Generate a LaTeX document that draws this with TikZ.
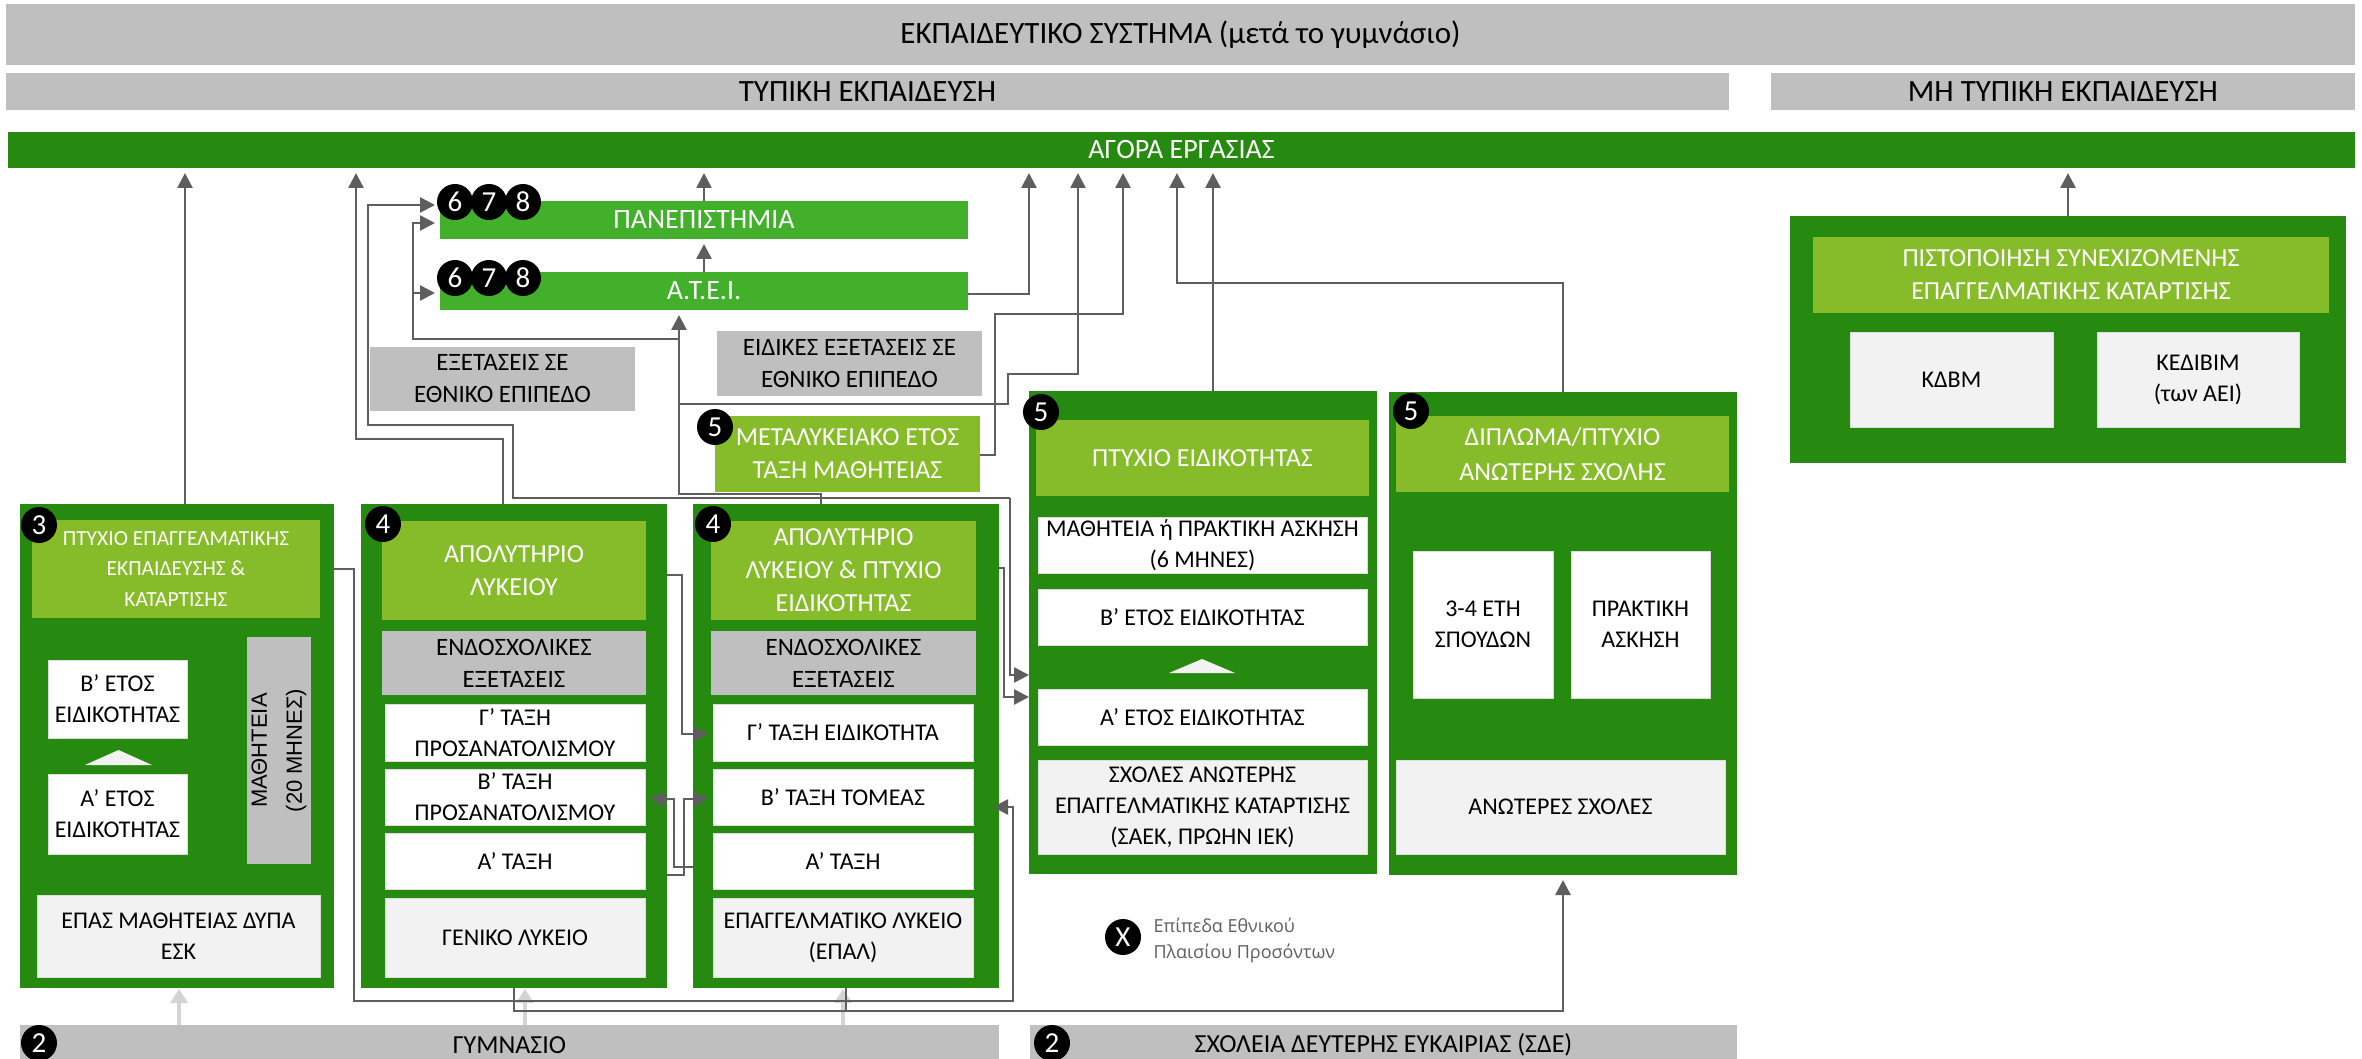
\documentclass[tikz,border=0pt]{standalone}
\usepackage{fontspec}
\setmainfont{Carlito}
\newfontfamily\legfont{Open Sans}
\newfontfamily\arfont{Liberation Sans}
\usetikzlibrary{arrows.meta}
\definecolor{dg}{HTML}{278A10}
\definecolor{lg}{HTML}{86BC29}
\definecolor{mg}{HTML}{42B02A}
\definecolor{gr}{HTML}{BFBFBF}
\definecolor{lgr}{HTML}{F2F2F2}
\definecolor{ln}{HTML}{5E5E5E}
\definecolor{lln}{HTML}{D4D4D4}
\definecolor{bd}{HTML}{DDDDDD}
\newcommand{\fs}[2]{\fontsize{#1}{#2}\selectfont}
\newcommand{\bx}[7]{\node[bxs,#6, minimum width={(#4-#2)*1pt}, minimum height={(#5-#3)*1pt}] (#1) at ({(#2+#4)/2},{(#3+#5)/2}) {#7};}
\begin{document}
\begin{tikzpicture}[x=1pt,y=-1pt,
  bxs/.style={inner sep=0pt, outer sep=0pt, align=center, font=\fs{24}{31}},
  bar/.style={fill=gr, font=\fs{31}{34}},
  gbar/.style={fill=dg, text=white, font=\fs{28}{30}},
  mbox/.style={fill=mg, text=white, font=\fs{28}{30}},
  cont/.style={fill=dg},
  hdr/.style={fill=lg, text=white, font=\fs{26}{33}},
  gb/.style={fill=gr, font=\fs{25}{32}},
  wb/.style={fill=white, draw=bd, line width=1pt},
  lb/.style={fill=lgr, draw=bd, line width=1pt},
  badge/.style={circle, fill=black, text=white, minimum size=36pt, inner sep=0pt, font=\fs{29}{29}},
  conn/.style={draw=ln, line width=2.6pt, -{Triangle[length=15pt,width=15pt]}, shorten >=5pt},
  wire/.style={draw=ln, line width=2.6pt},
  lconn/.style={draw=lln, line width=4pt, -{Triangle[length=14pt,width=17pt]}, shorten >=1pt}]
\useasboundingbox (0,0) rectangle (2362,1059);
\clip (0,0) rectangle (2362,1059);

% header bars
\bx{top}{6}{4}{2355}{65}{bar}{ΕΚΠΑΙΔΕΥΤΙΚΟ ΣΥΣΤΗΜΑ (μετά το γυμνάσιο)}
\bx{typ}{6}{73}{1729}{110}{bar}{ΤΥΠΙΚΗ ΕΚΠΑΙΔΕΥΣΗ}
\bx{mtyp}{1771}{73}{2355}{110}{bar}{ΜΗ ΤΥΠΙΚΗ ΕΚΠΑΙΔΕΥΣΗ}
\bx{agora}{8}{132}{2355}{168}{gbar}{ΑΓΟΡΑ ΕΡΓΑΣΙΑΣ}

% higher education
\bx{pan}{440}{201}{968}{239}{mbox}{ΠΑΝΕΠΙΣΤΗΜΙΑ}
\bx{atei}{440}{272}{968}{310}{mbox}{Α.Τ.Ε.Ι.}
\bx{exa}{370}{347}{635}{411}{gb}{ΕΞΕΤΑΣΕΙΣ ΣΕ\\ΕΘΝΙΚΟ ΕΠΙΠΕΔΟ}
\bx{exb}{717}{331}{982}{396}{gb}{ΕΙΔΙΚΕΣ ΕΞΕΤΑΣΕΙΣ ΣΕ\\ΕΘΝΙΚΟ ΕΠΙΠΕΔΟ}
\bx{meta}{715}{416}{980}{492}{hdr}{ΜΕΤΑΛΥΚΕΙΑΚΟ ΕΤΟΣ\\ΤΑΞΗ ΜΑΘΗΤΕΙΑΣ}

% box 3
\bx{b3}{20}{504}{334}{988}{cont}{}
\bx{b3h}{32}{520}{320}{618}{hdr,font=\fs{21.5}{30.6}}{ΠΤΥΧΙΟ ΕΠΑΓΓΕΛΜΑΤΙΚΗΣ\\ΕΚΠΑΙΔΕΥΣΗΣ \&\\ΚΑΤΑΡΤΙΣΗΣ}
\bx{b3b}{48}{660}{187}{738}{wb}{Β’ ΕΤΟΣ\\ΕΙΔΙΚΟΤΗΤΑΣ}
\bx{b3a}{48}{774}{187}{854}{wb}{Α’ ΕΤΟΣ\\ΕΙΔΙΚΟΤΗΤΑΣ}
\bx{b3m}{247}{637}{311}{864}{gb}{}
\node[rotate=90, align=center, font=\arfont\fs{22}{35}] (b3mt) at (b3m.center) {ΜΑΘΗΤΕΙΑ\\(20 ΜΗΝΕΣ)};
\bx{b3e}{37}{895}{320}{977}{lb}{ΕΠΑΣ ΜΑΘΗΤΕΙΑΣ ΔΥΠΑ\\ΕΣΚ}
\fill[lgr] (85,765) -- (152,765) -- (118.5,750) -- cycle;

% box 4a
\bx{b4a}{361}{504}{667}{988}{cont}{}
\bx{b4ah}{382}{521}{646}{620}{hdr}{ΑΠΟΛΥΤΗΡΙΟ\\ΛΥΚΕΙΟΥ}
\bx{b4ag}{382}{631}{646}{695}{gb}{ΕΝΔΟΣΧΟΛΙΚΕΣ\\ΕΞΕΤΑΣΕΙΣ}
\bx{b4a3}{385}{704}{645}{761}{wb}{Γ’ ΤΑΞΗ\\ΠΡΟΣΑΝΑΤΟΛΙΣΜΟΥ}
\bx{b4a2}{385}{769}{645}{825}{wb}{Β’ ΤΑΞΗ\\ΠΡΟΣΑΝΑΤΟΛΙΣΜΟΥ}
\bx{b4a1}{385}{833}{645}{889}{wb}{Α’ ΤΑΞΗ}
\bx{b4al}{385}{898}{645}{977}{lb}{ΓΕΝΙΚΟ ΛΥΚΕΙΟ}

% box 4b
\bx{b4b}{693}{504}{999}{988}{cont}{}
\bx{b4bh}{711}{521}{976}{620}{hdr}{ΑΠΟΛΥΤΗΡΙΟ\\ΛΥΚΕΙΟΥ \& ΠΤΥΧΙΟ\\ΕΙΔΙΚΟΤΗΤΑΣ}
\bx{b4bg}{711}{631}{976}{695}{gb}{ΕΝΔΟΣΧΟΛΙΚΕΣ\\ΕΞΕΤΑΣΕΙΣ}
\bx{b4b3}{713}{704}{973}{761}{wb}{Γ’ ΤΑΞΗ ΕΙΔΙΚΟΤΗΤΑ}
\bx{b4b2}{713}{769}{973}{825}{wb}{Β’ ΤΑΞΗ ΤΟΜΕΑΣ}
\bx{b4b1}{713}{833}{973}{889}{wb}{Α’ ΤΑΞΗ}
\bx{b4bl}{713}{898}{973}{977}{lb}{ΕΠΑΓΓΕΛΜΑΤΙΚΟ ΛΥΚΕΙΟ\\(ΕΠΑΛ)}

% box 5a
\bx{b5a}{1029}{391}{1377}{874}{cont}{}
\bx{b5ah}{1036}{420}{1369}{496}{hdr}{ΠΤΥΧΙΟ ΕΙΔΙΚΟΤΗΤΑΣ}
\bx{b5am}{1038}{517}{1367}{573}{wb}{ΜΑΘΗΤΕΙΑ ή ΠΡΑΚΤΙΚΗ ΑΣΚΗΣΗ\\(6 ΜΗΝΕΣ)}
\bx{b5ab}{1038}{589}{1367}{645}{wb}{Β’ ΕΤΟΣ ΕΙΔΙΚΟΤΗΤΑΣ}
\bx{b5aa}{1038}{689}{1367}{745}{wb}{Α’ ΕΤΟΣ ΕΙΔΙΚΟΤΗΤΑΣ}
\bx{b5as}{1038}{760}{1367}{854}{lb}{ΣΧΟΛΕΣ ΑΝΩΤΕΡΗΣ\\ΕΠΑΓΓΕΛΜΑΤΙΚΗΣ ΚΑΤΑΡΤΙΣΗΣ\\(ΣΑΕΚ, ΠΡΩΗΝ ΙΕΚ)}
\fill[lgr] (1169,673) -- (1235,673) -- (1202,659) -- cycle;

% box 5c
\bx{b5c}{1389}{392}{1737}{875}{cont}{}
\bx{b5ch}{1396}{416}{1729}{492}{hdr,font=\fs{26}{35}}{ΔΙΠΛΩΜΑ/ΠΤΥΧΙΟ\\ΑΝΩΤΕΡΗΣ ΣΧΟΛΗΣ}
\bx{b5c1}{1413}{551}{1553}{698}{wb}{3-4 ΕΤΗ\\ΣΠΟΥΔΩΝ}
\bx{b5c2}{1571}{551}{1710}{698}{wb}{ΠΡΑΚΤΙΚΗ\\ΑΣΚΗΣΗ}
\bx{b5cs}{1396}{760}{1725}{854}{lb}{ΑΝΩΤΕΡΕΣ ΣΧΟΛΕΣ}

% non formal
\bx{nf}{1790}{216}{2346}{463}{cont}{}
\bx{nfh}{1813}{237}{2329}{313}{hdr}{ΠΙΣΤΟΠΟΙΗΣΗ ΣΥΝΕΧΙΖΟΜΕΝΗΣ\\ΕΠΑΓΓΕΛΜΑΤΙΚΗΣ ΚΑΤΑΡΤΙΣΗΣ}
\bx{kdbm}{1850}{333}{2053}{427}{lb}{ΚΔΒΜ}
\bx{kedi}{2097}{333}{2299}{427}{lb}{ΚΕΔΙΒΙΜ\\(των ΑΕΙ)}

% bottom bars
\bx{gym}{20}{1025}{999}{1065}{bar,font=\fs{26}{30}}{ΓΥΜΝΑΣΙΟ}
\bx{sde}{1030}{1025}{1737}{1065}{bar,font=\fs{26}{30}}{ΣΧΟΛΕΙΑ ΔΕΥΤΕΡΗΣ ΕΥΚΑΙΡΙΑΣ (ΣΔΕ)}

% light arrows from gymnasio
\draw[lconn] (gym.north -| 179,0) -- (b3.south -| 179,0);
\draw[lconn] (gym.north -| 525,0) -- (b4a.south -| 525,0);
\draw[lconn] (gym.north -| 843,0) -- (b4b.south -| 843,0);

% connectors to labour market
\draw[conn] (b3.north -| 185,0) -- (agora.south -| 185,0);
\draw[conn] (b4a.north -| 503,0) |- (356,439) -- (agora.south -| 356,0);
\draw[conn] (pan.north) -- (agora.south -| pan.north);
\draw[conn] (atei.north) -- (pan.south);
\draw[conn] (atei.east |- 0,294) -| (agora.south -| 1029,0);
\draw[conn] (meta.east |- 0,455) -| (995,314) -| (agora.south -| 1123,0);
\draw[conn] (b5a.north -| 1213,0) -- (agora.south -| 1213,0);
\draw[conn] (b5c.north -| 1563,0) |- (1177,283) -- (agora.south -| 1177,0);
\draw[conn] (nf.north) -- (agora.south -| nf.north);

% connectors from box 4b top
\draw[conn] (b4b.north -| 821,0) |- (679,494) -- (atei.south -| 679,0);
\draw[conn] (679,339) -| (413,223) -- (pan.west |- 0,223);
\draw[conn] (413,293) -- (atei.west |- 0,293);
\draw[conn] (679,404) -| (1008,374) -| (agora.south -| 1078,0);
\draw[conn] (1010,498) -- (513,498) |- (368,425) |- (pan.west |- 0,205);
\draw[conn, shorten >=0pt] (1010,498) |- (b5a.west |- 0,675);
\draw[conn, shorten >=0pt] (b4b.east |- 0,568) -| (1004,697) -- (b5a.west |- 0,697);

% between lyceums
\draw[conn] (b4a.east |- 0,575) -| (682,734) -- (b4b3.west |- 0,734);
\draw[conn] (b4a.east |- 0,875) -| (684,799) -- (b4b2.west |- 0,799);
\draw[conn] (b4b.west |- 0,867) -| (674,799) -- (b4a2.east |- 0,799);
\draw[conn, shorten >=0pt] (b3.east |- 0,569) -| (354,1001) -| (1013,807) -- (993,807);

% bottom to higher schools
\draw[conn] (b4a.south) |- (1563,1011) -- (b5c.south -| 1563,0);
\draw[wire] (b4b.south) -- (b4b.south |- 0,1011);

% badges
\node[badge] (p6) at (455,202) {6};
\node[badge] (p7) at (489,202) {7};
\node[badge] (p8) at (523,202) {8};
\node[badge] (a6) at (455,278) {6};
\node[badge] (a7) at (489,278) {7};
\node[badge] (a8) at (523,278) {8};
\node[badge] (bm) at (715,427) {5};
\node[badge] (b5) at (1041,412) {5};
\node[badge] (c5) at (1411,411) {5};
\node[badge] (b3n) at (39,525) {3};
\node[badge] (b4n) at (383,524) {4};
\node[badge] (b4m) at (713,524) {4};
\node[badge] (g2) at (39,1043) {2};
\node[badge] (s2) at (1052,1043) {2};

% legend
\node[badge] (lx) at (1123,937) {X};
\node[anchor=west, align=left, text=ln, font=\legfont\fs{18}{26}] (lt) at (1150,940) {Επίπεδα Εθνικού\\Πλαισίου Προσόντων};
\end{tikzpicture}
\end{document}
